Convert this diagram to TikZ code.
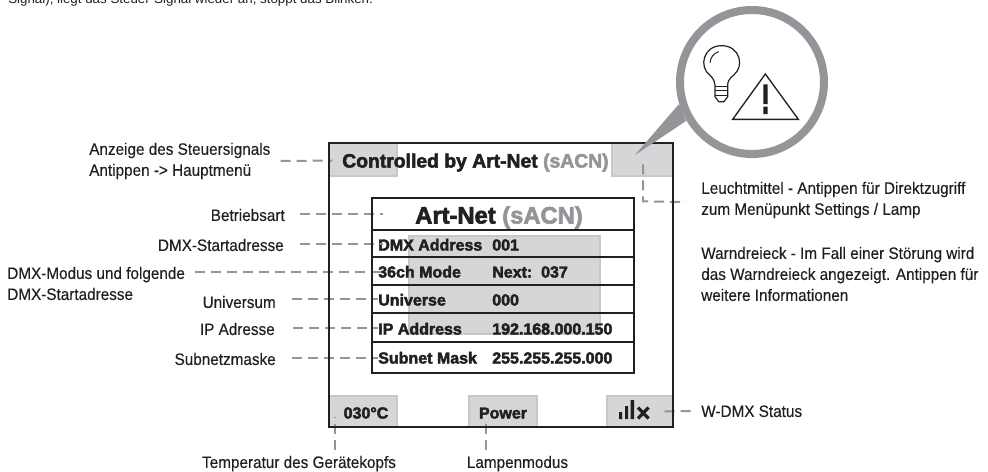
\documentclass[tikz,border=0pt]{standalone}
\usepackage{fontspec}
\setmainfont{Liberation Sans}
\newfontfamily\lblfont[FakeStretch=0.925,FakeBold=0.25]{Liberation Sans}
\newfontfamily\heavyfont[FakeBold=2.6]{Liberation Sans Bold}
\usetikzlibrary{calc}
\definecolor{ink}{HTML}{231F20}
\definecolor{midgray}{HTML}{939598}
\definecolor{boxgray}{HTML}{D5D6D8}
\definecolor{boxedge}{HTML}{C7C8CA}
\tikzset{
  x=0.75pt,y=-0.75pt,
  lblm/.style={inner sep=0pt,font=\lblfont\fontsize{12.4}{15.75}\selectfont,text=ink},
  lbl/.style={lblm,text height=8.9pt,text depth=0pt},
  graybox/.style={rectangle,draw=boxedge,fill=boxgray,line width=0.9pt,inner sep=0pt},
  dashline/.style={draw=midgray,line width=1.5pt,dash pattern=on 7.5pt off 4.5pt},
  framel/.style={draw=ink,line width=1.5pt},
  rowl/.style={draw=ink,line width=2pt},
  rowt/.style={inner sep=0pt,text height=8.3pt,text depth=0pt,font=\heavyfont\fontsize{12}{14}\selectfont,text=ink},
  icon/.style={draw=ink,line width=0.75pt,line join=round},
}
\begin{document}
\begin{tikzpicture}
\useasboundingbox (0,0) rectangle (988,471);
\fill[white] (0,0) rectangle (988,471);
% clipped line of running text
\node[anchor=base west,inner sep=0pt,font=\fontsize{10}{12}\selectfont,text=ink] (toptext) at (8,3) {Signal), liegt das Steuer-Signal wieder an, stoppt das Blinken.};
% gray fields
\node[graybox,minimum width=51pt,minimum height=24.75pt] (bTL) at (363,159.5) {};
\node[graybox,minimum width=45.75pt,minimum height=24.75pt] (bTR) at (642.5,159.5) {};
\node[graybox,minimum width=51pt,minimum height=23.25pt] (bTemp) at (363,411.5) {};
\node[graybox,minimum width=51pt,minimum height=23.25pt] (bPow) at (503,411.5) {};
\node[graybox,minimum width=49.5pt,minimum height=23.25pt] (bDmx) at (640,411.5) {};
\node[graybox,minimum width=143.25pt,minimum height=73.5pt] (bMid) at (504.5,285) {};
% labels
\node[lblm,anchor=west,align=left] (Lsig) at (89,161) {Anzeige des Steuersignals\\Antippen -> Hauptmenü};
\node[lbl,anchor=east] (Lbet) at (285,215) {Betriebsart};
\node[lbl,anchor=east] (Lsta) at (284,245) {DMX-Startadresse};
\node[lbl,anchor=west] (Lmod) at (7,273) {DMX-Modus und folgende};
\node[lbl,anchor=west] (Lmod2) at (7,294) {DMX-Startadresse};
\node[lbl,anchor=east] (Luni) at (276,302) {Universum};
\node[lbl,anchor=east] (Lip) at (275,329) {IP Adresse};
\node[lbl,anchor=east] (Lsub) at (276,359) {Subnetzmaske};
\node[lblm,anchor=west,align=left] (Lled) at (701,200) {Leuchtmittel - Antippen für Direktzugriff\\zum Menüpunkt Settings / Lamp};
\node[lblm,anchor=west,align=left] (Lwarn) at (701,274) {Warndreieck - Im Fall einer Störung wird\\das Warndreieck angezeigt. Antippen für\\weitere Informationen};
\node[lbl,anchor=west] (Lwd) at (701,411) {W-DMX Status};
\node[lbl] (Ltmp) at (299,462) {Temperatur des Gerätekopfs};
\node[lbl] (Llam) at (517.5,462) {Lampenmodus};
% display texts
\node[rowt,anchor=west,font=\heavyfont\fontsize{14.5}{16}\selectfont,text height=9.8pt] (tHead) at (342,161) {Controlled by Art-Net \textcolor{midgray}{(sACN)}};
\node[rowt,font=\heavyfont\fontsize{17.8}{20}\selectfont,text height=12.8pt] (tMode) at (499,215) {Art-Net \textcolor{midgray}{(sACN)}};
\node[rowt,anchor=west] (tA1) at (378,245) {DMX Address};
\node[rowt,anchor=west] (tA2) at (492,245) {001};
\node[rowt,anchor=west] (tM1) at (378,272) {36ch Mode};
\node[rowt,anchor=west] (tM2) at (492,272) {Next:\ \ 037};
\node[rowt,anchor=west] (tU1) at (378,300) {Universe};
\node[rowt,anchor=west] (tU2) at (492,300) {000};
\node[rowt,anchor=west] (tI1) at (378,329) {IP Address};
\node[rowt,anchor=west] (tI2) at (492,329) {192.168.000.150};
\node[rowt,anchor=west] (tS1) at (378,358) {Subnet Mask};
\node[rowt,anchor=west] (tS2) at (492,358) {255.255.255.000};
\node[rowt] (tTemp) at (366,413) {030°C};
\node[rowt] (tPow) at (503,413) {Power};
% connectors
\draw[dashline] ($(Lsig.east)+(10,0)$) -- ($(bTL.west)+(4,1)$);
\draw[dashline] ($(Lbet.east)+(15,-1)$) -- ($(tMode.west)+(-32,-1)$);
\draw[dashline] ($(Lsta.east)+(16,-1)$) -- ($(tA1.west)+(5,-1)$);
\draw[dashline] ($(Lmod.east)+(10,-1)$) -- ($(tM1.west)+(5,0)$);
\draw[dashline] ($(Luni.east)+(16,-3)$) -- ($(tU1.west)+(0,-1)$);
\draw[dashline] ($(Lip.east)+(18,-1)$) -- ($(tI1.west)+(0,-1)$);
\draw[dashline] ($(Lsub.east)+(16,-1)$) -- ($(tS1.west)+(0,0)$);
\coordinate (cLed) at (686,202);
\draw[dashline] ($(bTR.north)+(0.5,22)$) -- ($(bTR.north)+(0.5,59)$) -- (cLed);
\draw[dashline] ($(bDmx.east)+(-9,0)$) -- ($(Lwd.west)+(-5,0)$);
\draw[dashline] ($(Ltmp.north)+(36,-6)$) -- (335,417);
\draw[dashline] ($(Llam.north)+(-31.5,-6)$) -- (486,420);
% frame
\draw[framel] (329,143) rectangle (673,427);
\draw[rowl,line width=1.6pt] (372,198) rectangle (634,373);
\draw[rowl] (372,230) -- (634,230);
\draw[rowl] (372,257) -- (634,257);
\draw[rowl] (372,285) -- (634,285);
\draw[rowl] (372,313) -- (634,313);
\draw[rowl] (372,342) -- (634,342);
% W-DMX icon
\fill[ink] (619,419) rectangle (622,412) (625,419) rectangle (628,406) (630.5,419) rectangle (634,400);
\draw[ink,line width=2.4pt] (638,407.5) -- (648.5,418.5) (648.5,407.5) -- (638,418.5);
% magnifier
\fill[midgray] (635,155) -- (679,104) -- (686,121) -- cycle;
\node[circle,draw=midgray,fill=white,line width=6pt,minimum size=108pt,inner sep=0pt] (lens) at (752,82) {};
\begin{scope}[shift={(660,0)},x=0.25pt,y=-0.25pt]
\draw[icon,line width=0.9pt] (150,226) .. controls (115,200) and (130,137) .. (185,137) .. controls (240,137) and (255,200) .. (220,226) .. controls (208,236) and (203,245) .. (203,255) -- (203,290) -- (192,305) -- (176,305) -- (165,290) -- (165,255) .. controls (165,245) and (160,236) .. (150,226) -- cycle;
\draw[icon] (150,188) .. controls (152,172) and (160,160) .. (176,155);
\draw[icon] (165,258) -- (203,258) (165,272) -- (203,272) (165,285) -- (203,285);
\draw[icon,line width=1pt,line join=miter] (316,222) -- (218,358) -- (415,358) -- cycle;
\fill[ink] (310,253) rectangle (323,312) (310,320) rectangle (323,342);
\end{scope}
\end{tikzpicture}
\end{document}
